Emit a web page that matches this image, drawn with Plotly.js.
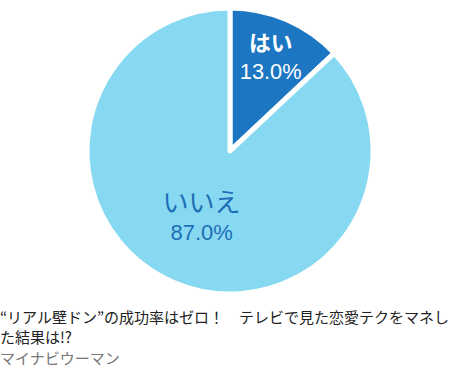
<!DOCTYPE html>
<html><head><meta charset="utf-8">
<script src="https://cdn.plot.ly/plotly-3.0.1.min.js"></script>
<style>html,body{margin:0;padding:0;background:#fff}#c{width:466px;height:371px}</style>
</head><body><div id="c"></div>
<script>
const labels = ['はい', 'いいえ'];
const values = [13.0, 87.0];
const captionLines = ['“リアル壁ドン”の成功率はゼロ！　テレビで見た恋愛テクをマネし', 'た結果は!?'];
const source = 'マイナビウーマン';

const trace = {
  type: 'pie',
  labels: labels,
  values: values,
  sort: false,
  direction: 'clockwise',
  rotation: 0,
  marker: {colors: ['#1c76c2', '#87d9f2'], line: {color: '#ffffff', width: 5}},
  texttemplate: ['<b>%{label}</b><br>%{value:.1f}%', '<span style="font-size:26px">%{label}</span><br>%{value:.1f}%'],
  textposition: 'inside',
  insidetextorientation: 'horizontal',
  insidetextfont: {family: 'Arial, "Liberation Sans", "Noto Sans CJK JP", sans-serif', size: [24, 22], color: ['#ffffff', '#1f6db6']},
  hoverinfo: 'none',
  showlegend: false
};

const font = 'Meiryo, "Noto Sans CJK JP", sans-serif';
const H = 286;
function py(pix) { return (294 - pix) / H; }
const layout = {
  width: 466, height: 371,
  margin: {l: 0, r: 6, t: 8, b: 77},
  paper_bgcolor: '#ffffff',
  showlegend: false,
  annotations: [
    {text: captionLines[0], xref: 'paper', yref: 'paper', x: 0, y: py(316), xanchor: 'left', yanchor: 'middle', showarrow: false, xshift: -2, font: {family: font, size: 15, color: '#222222'}},
    {text: captionLines[1], xref: 'paper', yref: 'paper', x: 0, y: py(336), xanchor: 'left', yanchor: 'middle', showarrow: false, xshift: -2, font: {family: font, size: 15, color: '#222222'}},
    {text: source, xref: 'paper', yref: 'paper', x: 0, y: py(357), xanchor: 'left', yanchor: 'middle', showarrow: false, xshift: -2, font: {family: font, size: 15, color: '#777777'}}
  ]
};
Plotly.newPlot('c', [trace], layout, {displayModeBar: false, staticPlot: true});
</script></body></html>
